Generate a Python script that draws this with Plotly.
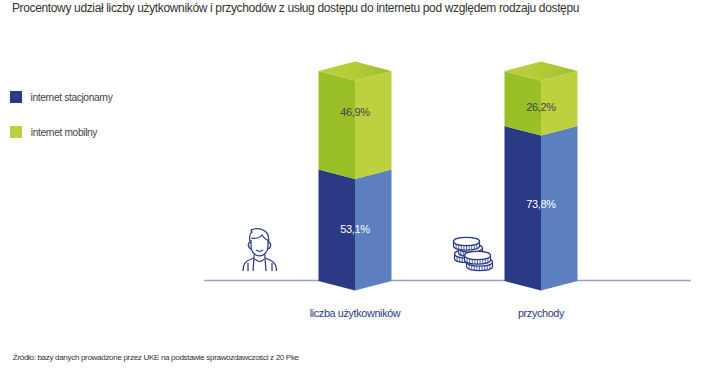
import re
import numpy as np
import plotly.graph_objects as go

W, H = 708, 382
# ---- data ----
categories = ["liczba użytkowników", "przychody"]
stacjonarny = [53.1, 73.8]
mobilny = [46.9, 26.2]
series_names = ["internet stacjonarny", "internet mobilny"]
title = "Procentowy udział liczby użytkowników i przychodów z usług dostępu do internetu pod względem rodzaju dostępu"
source = "Źródło: bazy danych prowadzone przez UKE na podstawie sprawozdawczości z 20 Pke"

# ---- style ----
DARK_BLUE, LIGHT_BLUE = "#2b3a85", "#5b7fbf"
DARK_GREEN, LIGHT_GREEN = "#9abf27", "#bdd03f"
AXIS = "#9c9fd4"
TEXT = "#444444"
FONT = "Liberation Sans"
PX_X = 186.0   # px per category
PX_Y = 2.1     # px per percent
BASE_PX = 281
BOTTOM_PX = 296
HALF = 36.5 / PX_X
SKEW = 9.5 / PX_Y

fig = go.Figure()


def px(x):
    return x / W


def py(y):
    return (BOTTOM_PX - y) / BOTTOM_PX


def face(xs, ys, color=None, gradient=None):
    kw = dict(fillgradient=gradient) if gradient else dict(fillcolor=color)
    fig.add_trace(go.Scatter(x=xs + xs[:1], y=ys + ys[:1], mode="lines", fill="toself",
                             line=dict(width=0), hoverinfo="skip", showlegend=False, **kw))


def column(i, y0, y1, left, right):
    face([i - HALF, i, i, i - HALF], [y0, y0 - SKEW, y1 - SKEW, y1], left)
    face([i, i + HALF, i + HALF, i], [y0 - SKEW, y0, y1, y1 - SKEW], right)


for i, (a, b) in enumerate(zip(stacjonarny, mobilny)):
    column(i, 0, a, DARK_BLUE, LIGHT_BLUE)
    column(i, a, a + b, DARK_GREEN, LIGHT_GREEN)
    t = a + b
    face([i - HALF, i, i + HALF, i], [t, t + SKEW, t, t - SKEW],
         gradient=dict(type="horizontal",
                       colorscale=[[0, LIGHT_GREEN], [0.5, "#b4cb36"], [1, DARK_GREEN]]))

# value labels; vertical shift in px from the centre of each segment
label_shift = {"a": [-5, -2], "b": [7, -10]}
fig.add_trace(go.Scatter(
    x=[0, 1], y=[v / 2 + s / PX_Y for v, s in zip(stacjonarny, label_shift["a"])],
    mode="text", text=[f"{v:.1f}%".replace(".", ",") for v in stacjonarny],
    textfont=dict(family=FONT, size=11, color="#ffffff"), hoverinfo="skip", showlegend=False))
fig.add_trace(go.Scatter(
    x=[0, 1], y=[a + b / 2 + s / PX_Y for a, b, s in zip(stacjonarny, mobilny, label_shift["b"])],
    mode="text", text=[f"{v:.1f}%".replace(".", ",") for v in mobilny],
    textfont=dict(family=FONT, size=11, color=TEXT), hoverinfo="skip", showlegend=False))


# ---- pixel helpers for decoration ----
def pth(s):
    """Turn a path in page pixels into paper coordinates."""
    n = [0]
    def rep(m):
        v = float(m.group())
        n[0] += 1
        return f"{px(v):.5f}" if n[0] % 2 else f"{py(v):.5f}"
    return re.sub(r"-?\d+\.?\d*", rep, s)


shapes = []


def icon(path, fill=None, width=1.25):
    shapes.append(dict(type="path", xref="paper", yref="paper", path=pth(path),
                       line=dict(color=DARK_BLUE, width=width),
                       fillcolor=fill or "rgba(0,0,0,0)", layer="above"))


# baseline
shapes.append(dict(type="line", xref="paper", yref="paper", x0=px(204), x1=px(691),
                   y0=py(280.5), y1=py(280.5), line=dict(color=AXIS, width=1.5), layer="below"))

# legend swatches
for y, c in [(97, DARK_BLUE), (132, LIGHT_GREEN)]:
    shapes.append(dict(type="rect", xref="paper", yref="paper", x0=px(10), x1=px(22),
                       y0=py(y + 6), y1=py(y - 6), fillcolor=c, line=dict(width=0)))

# person icon
icon("M250 243 C249 236 250 233 252 232 C250 230 252 229 254 229 C260 228 266 230 268 235 C269 238 269 240 268.5 243")
icon("M251 238 C254 239 260 238 262 235 C264 238 266 240 268 240")
icon("M251 240 L251 246 C251 252 255 256 259.5 256 C264 256 268 252 268 246 L268 240")
icon("M251 243 C248 241 247 247 251 249 M268 243 C271 241 272 247 268 249")
icon("M256 250 C258 251.5 261 251.5 263 250")
icon("M254 255 L254 258 C248 260 243 262 243 271 M265 255 L265 258 C271 260 276.5 262 276.5 271")
icon("M254 258 L253 271 M265 258 L266 271 M255 259 C257 262 262 262 264 259")
icon("M248 263 L248 271 M272 263 L272 271")


# coin icon
def coin(cx, cy, rx=13, ry=4.2, d=4.6):
    top = (f"M{cx - rx} {cy} C{cx - rx} {cy - ry * 1.3} {cx + rx} {cy - ry * 1.3} {cx + rx} {cy} "
           f"L{cx + rx} {cy + d} C{cx + rx} {cy + d + ry * 1.3} {cx - rx} {cy + d + ry * 1.3} {cx - rx} {cy + d} Z")
    icon(top, fill="#ffffff", width=1.2)
    icon(f"M{cx - rx} {cy} C{cx - rx} {cy + ry * 1.3} {cx + rx} {cy + ry * 1.3} {cx + rx} {cy}", width=1.2)
    ticks = ""
    for k in np.linspace(-0.8, 0.8, 9):
        yy = cy + ry * np.sqrt(1 - k * k) + 0.3
        ticks += f"M{cx + k * rx:.1f} {yy:.1f} L{cx + k * rx:.1f} {yy + d - 0.6:.1f} "
    icon(ticks, width=0.8)


coin(467.5, 254, rx=13)
coin(470.5, 248, rx=12)
coin(466.5, 241.5, rx=13)
coin(479.5, 262, rx=13)
coin(477.5, 255.5, rx=13)

# annotation centres: tighter tracking is applied after plotly measures the text
ann = [
    dict(x=px(295.5), y=py(8), text=title, font=dict(size=12, color="#333333")),
    dict(x=px(72), y=py(97), text=series_names[0], font=dict(size=10.2, color=TEXT)),
    dict(x=px(64.5), y=py(132), text=series_names[1], font=dict(size=10.2, color=TEXT)),
    dict(x=px(156), y=py(357), text=source, font=dict(size=8.1, color="#333333")),
]
for a in ann:
    a.update(xref="paper", yref="paper", xanchor="center", yanchor="middle", showarrow=False)
    a["font"]["family"] = FONT

fig.update_layout(
    width=W, height=H, autosize=False,
    margin=dict(l=0, r=0, t=0, b=H - BOTTOM_PX, pad=0),
    paper_bgcolor="#ffffff", plot_bgcolor="#ffffff",
    shapes=shapes, annotations=ann, showlegend=False,
    xaxis=dict(range=[-355 / PX_X, (W - 355) / PX_X], tickmode="array", tickvals=[0, 1], ticktext=categories,
               showgrid=False, zeroline=False, showline=False, ticks="outside", ticklen=7,
               tickcolor="rgba(0,0,0,0)", tickfont=dict(family=FONT, size=10.8, color=DARK_BLUE), fixedrange=True),
    yaxis=dict(range=[-(BOTTOM_PX - BASE_PX) / PX_Y, BASE_PX / PX_Y], visible=False, fixedrange=True),
)
post = ("document.body.style.margin='0';"
        "var s=document.createElement('style');"
        "s.textContent='svg text{letter-spacing:-0.35px}';document.head.appendChild(s);")
fig.write_html("out.html", config=dict(displayModeBar=False), post_script=post)
